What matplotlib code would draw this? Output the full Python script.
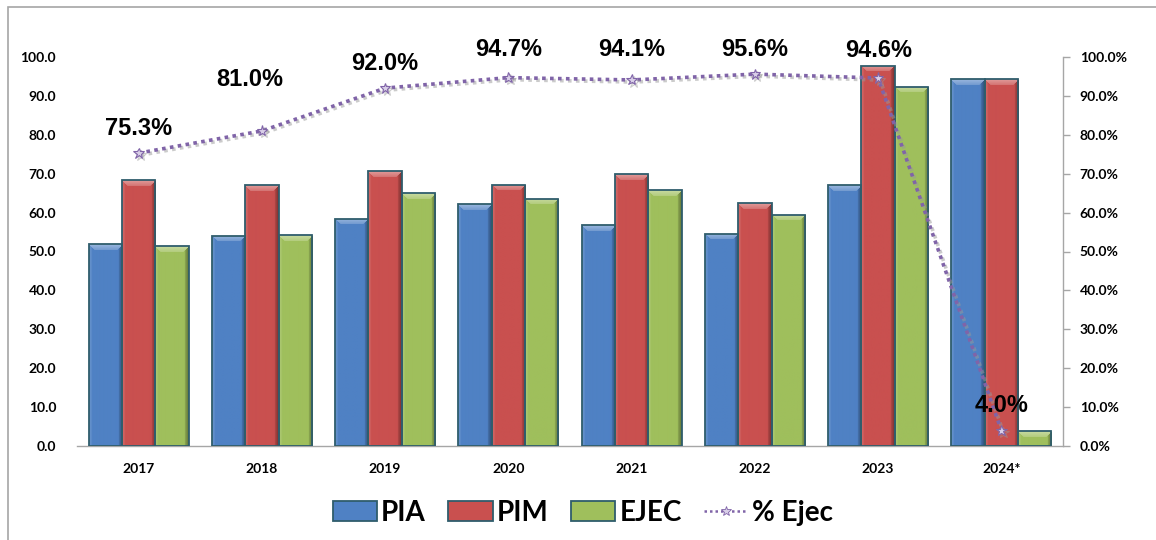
import matplotlib
matplotlib.use("Agg")
import matplotlib.pyplot as plt
import numpy as np
from matplotlib import patheffects as pe
from matplotlib.ticker import FuncFormatter, MultipleLocator
from matplotlib.patches import Rectangle, Patch
from matplotlib.lines import Line2D
from matplotlib.font_manager import FontProperties

# ---- data ----
years = ["2017", "2018", "2019", "2020", "2021", "2022", "2023", "2024*"]
pia = [51.9, 54.0, 58.4, 62.1, 56.7, 54.5, 67.0, 94.3]
pim = [68.3, 67.0, 70.6, 67.2, 69.9, 62.4, 97.7, 94.3]
ejec = [51.4, 54.2, 65.0, 63.6, 65.8, 59.5, 92.4, 3.8]
pct_ejec = [75.3, 81.0, 92.0, 94.7, 94.1, 95.6, 94.6, 4.0]

series_names = ["PIA", "PIM", "EJEC"]
series_colors = ["#4f81c4", "#c9504f", "#9fbf5c"]
edge_color = "#2f5d6c"
line_color = "#8064a8"

W, H, DPI = 1156, 540, 100
fig = plt.figure(figsize=(W / DPI, H / DPI), dpi=DPI)
fig.patch.set_facecolor("white")

# outer frame (only left and top edges fall inside the canvas)
fig.add_artist(Rectangle((8 / W, -0.1), 1.2, 1.1 - 7 / H, transform=fig.transFigure,
                         fill=False, edgecolor="#a6a6a6", linewidth=1.2))

ax = fig.add_axes([77 / W, 94 / H, (1063 - 77) / W, (446 - 57) / H])
ax2 = ax.twinx()

tick_fp = FontProperties(family=["Lato", "DejaVu Sans"], weight="bold", size=10)

x = np.arange(len(years))
bw = 0.27


def shade(c, f):
    c = np.array(matplotlib.colors.to_rgb(c))
    if f >= 0:
        return c + (1 - c) * f
    return c * (1 + f)


def bevel_bars(patches, color):
    fig.canvas.draw()
    for p in patches:
        bb = p.get_window_extent()
        wpx = max(int(round(bb.width)), 2)
        hpx = max(int(round(bb.height)), 2)
        base = np.array(matplotlib.colors.to_rgb(color))
        img = np.tile(base, (hpx, wpx, 1))
        side = 4
        top = 6
        # left lighter rim, right darker rim, lighter bevelled top
        for c in range(3):
            img[:, c] = shade(color, 0.15 - 0.04 * c)
        for k in range(side):
            img[:, wpx - side + k] = shade(color, -0.15 - 0.08 * k)
        for r in range(min(top, hpx)):
            lo, hi = r, wpx - r
            if hi > lo:
                img[r, lo:hi] = shade(color, 0.42 - 0.04 * r)
        img = np.clip(img, 0, 1)
        x0, y0 = p.get_x(), p.get_y()
        im = ax.imshow(img, extent=(x0, x0 + p.get_width(), y0, y0 + p.get_height()),
                       aspect="auto", origin="upper", zorder=2.5, interpolation="bilinear")
        im.set_clip_path(p)
        p.set_facecolor("none")
        p.set_zorder(3)


all_vals = [pia, pim, ejec]
bar_groups = []
for i, (vals, col) in enumerate(zip(all_vals, series_colors)):
    offs = (i - 1) * bw
    bars = ax.bar(x + offs, vals, bw, color=col, edgecolor=edge_color,
                  linewidth=1.3, zorder=3, label=series_names[i])
    bar_groups.append((bars, col))

ax.set_xlim(-0.5, len(years) - 0.5)
ax.set_ylim(0, 100)
ax2.set_ylim(0, 100)

for bars, col in bar_groups:
    bevel_bars(bars.patches, col)
ax.set_xlim(-0.5, len(years) - 0.5)
ax.set_ylim(0, 100)

# axes styling
for s in ["top", "left", "right"]:
    ax.spines[s].set_visible(False)
ax.spines["bottom"].set_color("#a6a6a6")
ax.spines["bottom"].set_linewidth(1.0)
for s in ["top", "left", "bottom"]:
    ax2.spines[s].set_visible(False)
ax2.spines["right"].set_color("#a6a6a6")
ax2.spines["right"].set_linewidth(1.0)

ax.yaxis.set_major_locator(MultipleLocator(10))
ax.yaxis.set_major_formatter(FuncFormatter(lambda v, _: f"{v:.1f}"))
ax.tick_params(axis="y", length=0, pad=15)
ax.set_xticks(x)
ax.set_xticklabels(years)
ax.tick_params(axis="x", length=0, pad=12)
for lab in ax.get_yticklabels() + ax.get_xticklabels():
    lab.set_fontproperties(tick_fp)

ax2.yaxis.set_major_locator(MultipleLocator(10))
ax2.yaxis.set_major_formatter(FuncFormatter(lambda v, _: f"{v:.1f}%"))
ax2.tick_params(axis="y", length=5, width=1, color="#a6a6a6", pad=7)
for lab in ax2.get_yticklabels():
    lab.set_fontproperties(tick_fp)

# execution-rate line
ln, = ax2.plot(x, pct_ejec, color=line_color, linestyle=(0, (1, 1.2)), linewidth=2.6,
               marker="*", markersize=8, markerfacecolor="#d9cfe8",
               markeredgecolor=line_color, markeredgewidth=0.8, zorder=5,
               label="% Ejec")
ln.set_path_effects([pe.SimpleLineShadow(offset=(1.5, -1.5), shadow_color="#999999", alpha=0.5),
                     pe.Normal()])

label_fp = FontProperties(family=["Liberation Sans", "DejaVu Sans"], weight="bold", size=17)
label_offsets = [(0, 25), (-12, 51), (0, 25), (0, 28), (0, 30), (0, 25), (0, 28), (0, 25)]
for xi, v, (dx, dy) in zip(x, pct_ejec, label_offsets):
    ax2.annotate(f"{v:.1f}%", (xi, v), xytext=(dx * 0.72, dy * 0.72),
                 textcoords="offset points", ha="center", va="center",
                 zorder=6, fontproperties=label_fp)

# legend
leg_handles = [Patch(facecolor=c, edgecolor=edge_color, linewidth=1.3) for c in series_colors]
leg_handles.append(Line2D([0], [0], color=line_color, linestyle=(0, (1, 1.2)), linewidth=1.8,
                          marker="*", markersize=7, markerfacecolor="#d9cfe8",
                          markeredgecolor=line_color, markeredgewidth=0.6))
fig.legend(leg_handles, series_names + ["% Ejec"], loc="center",
           bbox_to_anchor=(583 / W, 1 - 513 / H), ncol=4, frameon=False,
           prop=FontProperties(family=["Lato", "DejaVu Sans"], weight="bold", size=20),
           handlelength=1.6, handleheight=0.72, handletextpad=0.15,
           columnspacing=0.8)

fig.savefig("out.png", dpi=DPI, facecolor="white")
